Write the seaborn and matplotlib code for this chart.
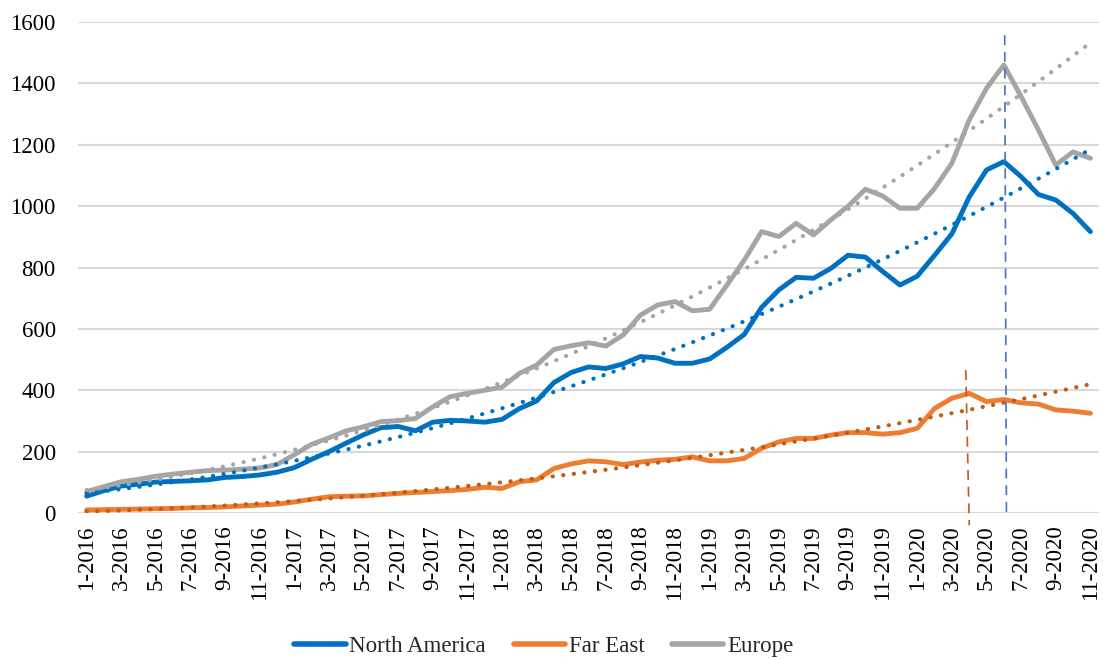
import numpy as np
import pandas as pd
import matplotlib
matplotlib.use("Agg")
import matplotlib.pyplot as plt
import seaborn as sns

months = [f"{m}-{y}" for y in range(2016, 2021) for m in range(1, 13)][:59]

north_america = [55, 73, 88, 94, 101, 103, 105, 108, 116, 119, 124, 133,
                 148, 175, 200, 228, 255, 278, 282, 268, 296, 302, 300, 296,
                 305, 340, 365, 425, 458, 476, 471, 486, 510, 505, 488, 488,
                 502, 540, 582, 670, 727, 768, 765, 797, 840, 834, 787, 743,
                 772, 840, 910, 1030, 1118, 1145, 1096, 1038, 1020, 976, 917]
far_east = [10, 11, 12, 13, 14, 15, 17, 18, 20, 23, 26, 29,
            36, 45, 53, 55, 56, 60, 64, 67, 70, 73, 77, 84,
            80, 102, 108, 145, 160, 170, 167, 158, 166, 172, 175, 183,
            170, 170, 178, 211, 232, 243, 243, 254, 262, 262, 257, 262,
            276, 341, 374, 390, 363, 370, 359, 355, 336, 332, 325]
europe = [70, 86, 102, 110, 120, 127, 133, 138, 140, 143, 147, 158,
          190, 224, 245, 268, 281, 298, 301, 308, 346, 379, 390, 400,
          410, 455, 482, 533, 545, 555, 544, 580, 645, 678, 689, 659,
          664, 743, 824, 917, 901, 944, 906, 955, 1000, 1055, 1033, 993,
          993, 1058, 1140, 1281, 1384, 1460, 1357, 1248, 1134, 1177, 1156]

series = {"North America": north_america, "Far East": far_east, "Europe": europe}
colors = {"North America": "#0070C0", "Far East": "#ED7D31", "Europe": "#A5A5A5"}
trend_colors = {"North America": "#0070C0", "Far East": "#C55A11", "Europe": "#A5A5A5"}
# the order-2 trends are fitted on the months before the drop, then carried on
fit_months = {"North America": 53, "Far East": 51, "Europe": 54}

# peak markers (month index)
peak_far_east = 50.9
peak_north_america = 53.1

rows = []
for name, vals in series.items():
    for i, v in enumerate(vals):
        rows.append({"idx": i, "month": months[i], "value": v, "region": name})
df = pd.DataFrame(rows)

sns.set_style("white")
plt.rcParams["font.family"] = ["Liberation Serif", "DejaVu Serif"]

fig = plt.figure(figsize=(11.03, 6.59), dpi=100)
ax = fig.add_axes([0.0707, 0.2215, 0.9257, 0.7451])

sns.lineplot(data=df, x="idx", y="value", hue="region", palette=colors,
             linewidth=3.5, ax=ax, legend=False, solid_capstyle="round")

x = np.arange(len(months))
for name, vals in series.items():
    n = fit_months[name]
    coef = np.polyfit(x[:n], vals[:n], 2)
    ax.plot(x, np.polyval(coef, x), color=trend_colors[name], linewidth=3.0,
            linestyle=(0, (0.05, 2.5)), dash_capstyle="round", zorder=3)

ax.plot([peak_far_east - 0.1, peak_far_east + 0.1], [466, -40], color="#C55A11",
        linewidth=1.2, linestyle=(0, (6, 4)), clip_on=False, zorder=4)
ax.plot([peak_north_america - 0.05, peak_north_america + 0.05], [1557, -18], color="#4472C4",
        linewidth=1.2, linestyle=(0, (6, 4)), clip_on=False, zorder=4)

ax.set_xlim(-0.5, len(months) - 0.5)
ax.set_ylim(0, 1600)
ax.set_yticks(range(0, 1601, 200))
ax.set_xticks(x[::2])
ax.set_xticklabels(months[::2], rotation=90)
ax.tick_params(axis="both", length=0, labelsize=16.5, colors="black")
ax.tick_params(axis="x", pad=9)
ax.tick_params(axis="y", pad=16)
ax.yaxis.grid(True, color="#D9D9D9", linewidth=1.5)
ax.set_axisbelow(True)
for s in ax.spines.values():
    s.set_visible(False)
ax.set_xlabel("")
ax.set_ylabel("")

handles = [plt.Line2D([], [], color=colors[n], linewidth=4, solid_capstyle="round") for n in series]
fig.legend(handles, list(series.keys()), loc="center", bbox_to_anchor=(0.493, 0.019),
           ncol=3, frameon=False, fontsize=16.5, handlelength=2.25, handletextpad=0.15,
           columnspacing=1.2)

plt.savefig("out.png", dpi=100)
